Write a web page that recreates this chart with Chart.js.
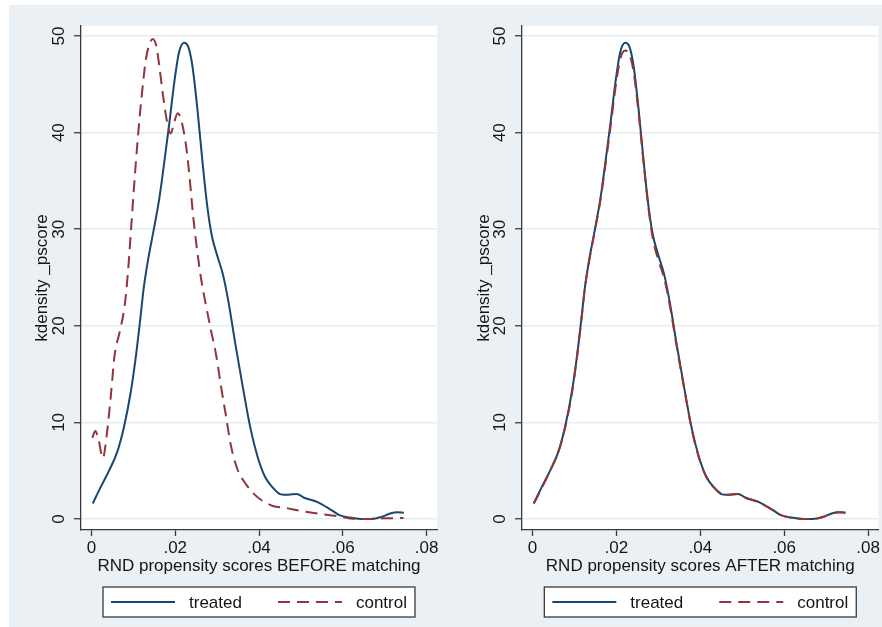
<!DOCTYPE html>
<html>
<head>
<meta charset="utf-8">
<script src="https://cdn.jsdelivr.net/npm/chart.js@4.4.1/dist/chart.umd.min.js"></script>
<style>
  body { margin: 0; background: #fff; }
  #panel { position: absolute; left: 9px; top: 5px; width: 873px; height: 622px; background: #eaf0f3; }
  .box { position: absolute; top: 0; height: 622px; }
  #leftBox { left: 0; width: 442px; }
  #rightBox { left: 442px; width: 431px; }
</style>
</head>
<body>
<div id="panel">
  <div class="box" id="leftBox"><canvas id="beforeChart" width="442" height="622"></canvas></div>
  <div class="box" id="rightBox"><canvas id="afterChart" width="431" height="622"></canvas></div>
</div>
<script>
const FONT = '"Liberation Sans", Arial, sans-serif';
const TEXT = '#151515';
const AXIS = '#3a3a3a';

const xTicks = [0, 0.02, 0.04, 0.06, 0.08];
const yTicks = [0, 10, 20, 30, 40, 50];

// treated group (same in both panels)
const treatedX = [0.0003, 0.0022, 0.0042, 0.0062, 0.0078, 0.0094, 0.0105, 0.0116, 0.0125, 0.0135,
  0.0148, 0.0162, 0.0174, 0.0186, 0.0198, 0.0209, 0.0221, 0.0231, 0.0241, 0.0253,
  0.0265, 0.0277, 0.0287, 0.0300, 0.0314, 0.0327, 0.0344, 0.0362, 0.0380, 0.0397,
  0.0414, 0.0432, 0.0452, 0.0470, 0.0490, 0.0508, 0.0540, 0.0572, 0.0592, 0.0622,
  0.0645, 0.0668, 0.0692, 0.0715, 0.0730, 0.0746];
const treatedY = [1.6, 3.3, 5.0, 7.0, 9.6, 13.2, 16.5, 20.5, 24.0, 26.8,
  29.8, 33.2, 37.0, 41.0, 45.3, 48.3, 49.3, 48.9, 46.9, 42.4,
  37.0, 32.2, 29.4, 27.3, 25.3, 22.5, 18.0, 13.5, 9.3, 6.4,
  4.4, 3.3, 2.55, 2.5, 2.6, 2.2, 1.75, 0.95, 0.4, 0.12,
  0, 0, 0.2, 0.6, 0.7, 0.65];

// control group before matching
const controlBeforeX = [0.0002, 0.0009, 0.0017, 0.0027, 0.0037, 0.0047, 0.0055, 0.0067, 0.0079, 0.0087,
  0.0095, 0.0103, 0.0111, 0.0119, 0.0130, 0.0138, 0.0146, 0.0154, 0.0162, 0.0170,
  0.0181, 0.0189, 0.0197, 0.0206, 0.0216, 0.0226, 0.0234, 0.0242, 0.0250, 0.0262,
  0.0274, 0.0285, 0.0298, 0.0309, 0.0321, 0.0333, 0.0349, 0.0369, 0.0389, 0.0409,
  0.0433, 0.0461, 0.0497, 0.0546, 0.0594, 0.0626, 0.0657, 0.0697, 0.0745];
const controlBeforeY = [8.4, 9.1, 8.2, 6.3, 8.9, 13.1, 16.9, 19.3, 22.0, 25.5,
  30.3, 35.2, 39.6, 43.4, 47.6, 49.1, 49.7, 49.1, 46.9, 44.1,
  41.0, 39.9, 41.0, 42.0, 41.0, 38.6, 35.5, 31.7, 28.6, 24.8,
  22.0, 19.6, 16.9, 13.8, 10.7, 7.6, 5.1, 3.6, 2.55, 1.86,
  1.35, 1.17, 0.85, 0.52, 0.24, 0.02, 0, 0.07, 0.1];

// control group after matching
const controlAfterX = treatedX;
const controlAfterY = [1.6, 3.2, 5.0, 7.0, 9.5, 13.0, 16.4, 20.4, 23.9, 26.7,
  29.7, 33.0, 36.7, 40.6, 44.7, 47.6, 48.5, 48.1, 46.3, 42.0,
  36.8, 32.0, 29.0, 26.8, 24.9, 22.2, 17.8, 13.4, 9.2, 6.3,
  4.4, 3.3, 2.6, 2.5, 2.6, 2.2, 1.7, 0.95, 0.4, 0.12,
  0, 0, 0.2, 0.6, 0.7, 0.65];

function pairs(xs, ys) {
  return xs.map((x, i) => ({ x: x, y: ys[i] }));
}

function fmtX(v) {
  if (v === 0) return '0';
  return String(+v.toFixed(2)).replace(/^0/, '');
}

const plotAreaPlugin = {
  id: 'plotArea',
  beforeDraw(chart) {
    const a = chart.chartArea;
    chart.ctx.save();
    chart.ctx.fillStyle = '#fff';
    chart.ctx.fillRect(a.left, a.top, a.right - a.left, a.bottom - a.top);
    chart.ctx.restore();
  }
};

const yLabelPlugin = {
  id: 'yLabels',
  afterDraw(chart) {
    const s = chart.scales.y;
    const ctx = chart.ctx;
    ctx.save();
    ctx.fillStyle = TEXT;
    ctx.font = '17px ' + FONT;
    ctx.textAlign = 'center';
    ctx.textBaseline = 'middle';
    s.ticks.forEach(t => {
      ctx.save();
      ctx.translate(chart.chartArea.left - 22, s.getPixelForValue(t.value));
      ctx.rotate(-Math.PI / 2);
      ctx.fillText(String(t.value), 0, 0);
      ctx.restore();
    });
    ctx.restore();
  }
};

const legendBoxPlugin = {
  id: 'legendBox',
  afterDraw(chart) {
    const ctx = chart.ctx;
    const a = chart.chartArea;
    const sets = chart.data.datasets;
    ctx.save();
    ctx.font = '17px ' + FONT;
    const widths = sets.map(d => ctx.measureText(d.label).width);
    let total = 16 + 36 * (sets.length - 1);
    widths.forEach(w => { total += 64 + 14 + w; });
    let x = (a.left + a.right) / 2 - total / 2;
    const top = a.bottom + 57;
    const h = 30;
    ctx.fillStyle = '#fff';
    ctx.fillRect(x, top, total, h);
    ctx.strokeStyle = AXIS;
    ctx.lineWidth = 1.3;
    ctx.strokeRect(x, top, total, h);
    const cy = top + h / 2;
    x += 8;
    sets.forEach((d, i) => {
      ctx.strokeStyle = d.borderColor;
      ctx.lineWidth = d.borderWidth;
      ctx.setLineDash(d.borderDash || []);
      ctx.beginPath();
      ctx.moveTo(x, cy);
      ctx.lineTo(x + 64, cy);
      ctx.stroke();
      ctx.setLineDash([]);
      x += 64 + 14;
      ctx.fillStyle = TEXT;
      ctx.textAlign = 'left';
      ctx.textBaseline = 'middle';
      ctx.fillText(d.label, x, cy + 1);
      x += widths[i] + 36;
    });
    ctx.restore();
  }
};

function makeChart(id, xTitle, ctrlX, ctrlY, yWidth, padRight) {
  return new Chart(document.getElementById(id), {
    type: 'line',
    data: {
      datasets: [
        {
          label: 'treated',
          data: pairs(treatedX, treatedY),
          borderColor: '#1a476f',
          borderWidth: 2,
          pointRadius: 0,
          cubicInterpolationMode: 'monotone',
          order: 1
        },
        {
          label: 'control',
          data: pairs(ctrlX, ctrlY),
          borderColor: '#90353b',
          borderWidth: 2,
          borderDash: [12, 7],
          pointRadius: 0,
          cubicInterpolationMode: 'monotone',
          order: 0
        }
      ]
    },
    options: {
      responsive: false,
      animation: false,
      layout: { padding: { top: 21, right: padRight, bottom: 47, left: 0 } },
      plugins: {
        legend: { display: false },
        tooltip: { enabled: false }
      },
      scales: {
        x: {
          type: 'linear',
          min: -0.0025,
          max: 0.0825,
          afterBuildTicks: s => { s.ticks = xTicks.map(v => ({ value: v })); },
          afterFit: s => { s.height = 50; },
          grid: { drawOnChartArea: false, drawTicks: true, tickLength: 6, tickColor: AXIS, tickWidth: 1.3 },
          border: { color: AXIS, width: 1.3 },
          ticks: {
            color: TEXT,
            font: { size: 17, family: FONT },
            padding: 2,
            maxRotation: 0,
            autoSkip: false,
            callback: v => fmtX(v)
          },
          title: {
            display: true,
            text: xTitle,
            color: TEXT,
            font: { size: 17, family: FONT },
            padding: { top: 0, bottom: 3 }
          }
        },
        y: {
          min: -1.14,
          max: 51.04,
          afterBuildTicks: s => { s.ticks = yTicks.map(v => ({ value: v })); },
          afterFit: s => { s.width = yWidth; },
          grid: { color: '#e4eef0', lineWidth: 1.5, tickColor: AXIS, tickLength: 7, tickWidth: 1.3 },
          border: { color: AXIS, width: 1.3 },
          ticks: { display: false },
          title: {
            display: true,
            text: 'kdensity _pscore',
            color: TEXT,
            font: { size: 17, family: FONT },
            padding: { top: 23, bottom: 0 }
          }
        }
      }
    },
    plugins: [plotAreaPlugin, yLabelPlugin, legendBoxPlugin]
  });
}

makeChart('beforeChart', 'RND propensity scores BEFORE matching', controlBeforeX, controlBeforeY, 72, 14);
makeChart('afterChart', 'RND propensity scores AFTER matching', controlAfterX, controlAfterY, 71, 3);
</script>
</body>
</html>
